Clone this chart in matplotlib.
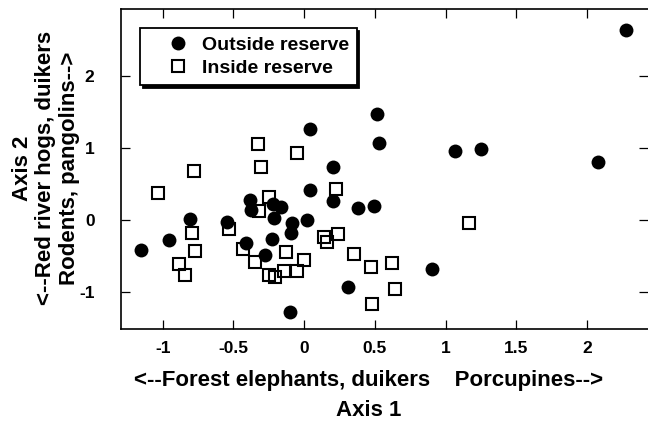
import matplotlib
matplotlib.use("Agg")
import matplotlib.pyplot as plt

plt.rcParams['font.family'] = ['Liberation Sans', 'DejaVu Sans']
plt.rcParams['font.weight'] = 'bold'

# Outside reserve (filled circles)
out_x = [2.273, 0.514, 0.528, 0.040, 1.067, 1.251, 2.078, 0.200, 0.040, 0.200,
         0.382, 0.493, -0.384, -0.377, -0.224, -0.167, -0.212, -0.089, -0.096, 0.017,
         -0.546, -0.808, -0.954, -1.156, -0.412, -0.228, -0.280, 0.311, -0.101, 0.905]
out_y = [2.63, 1.466, 1.06, 1.259, 0.954, 0.986, 0.802, 0.737, 0.415, 0.263,
         0.161, 0.198, 0.277, 0.138, 0.217, 0.184, 0.023, -0.046, -0.184, 0.0,
         -0.023, 0.014, -0.277, -0.415, -0.313, -0.267, -0.479, -0.931, -1.268, -0.682]

# Inside reserve (open squares)
in_x = [-1.036, -0.780, -0.330, -0.306, -0.052, -0.249, -0.318, 0.224, -0.532, -0.796,
        -0.772, -0.888, -0.841, -0.431, -0.348, -0.129, -0.002, -0.049, -0.141, -0.247,
        -0.205, 0.141, 0.158, 0.240, 0.353, 0.469, 0.620, 0.643, 0.481, 1.166]
in_y = [0.369, 0.678, 1.051, 0.737, 0.922, 0.323, 0.124, 0.429, -0.129, -0.184,
        -0.429, -0.613, -0.761, -0.406, -0.576, -0.447, -0.553, -0.701, -0.701, -0.761,
        -0.784, -0.240, -0.300, -0.198, -0.470, -0.646, -0.599, -0.954, -1.166, -0.046]

xticks = [-1, -0.5, 0, 0.5, 1, 1.5, 2]
xticklabels = ['-1', '-0.5', '0', '0.5', '1', '1.5', '2']
yticks = [-1, 0, 1, 2]
yticklabels = ['-1', '0', '1', '2']

fig = plt.figure(figsize=(6.48, 4.21), dpi=100)
W, H = 648, 421
ax = fig.add_axes([121 / W, (H - 328.5) / H, (648 - 121) / W, (328.5 - 9) / H])

ax.plot(in_x, in_y, linestyle='none', marker='s', markersize=9.2,
        markerfacecolor='none', markeredgecolor='black', markeredgewidth=1.5,
        label='Inside reserve', zorder=2)
ax.plot(out_x, out_y, linestyle='none', marker='o', markersize=10,
        markerfacecolor='black', markeredgecolor='black', markeredgewidth=0,
        label='Outside reserve', zorder=3)

ax.set_xlim(-1.295, 2.43)
ax.set_ylim(-1.5, 2.92)
ax.set_xticks(xticks)
ax.set_xticklabels(xticklabels)
ax.set_yticks(yticks)
ax.set_yticklabels(yticklabels)
ax.tick_params(axis='both', direction='in', length=6.5, width=0.9,
               top=True, right=True, labelsize=12.5)
ax.tick_params(axis='x', pad=9)
ax.tick_params(axis='y', pad=19)
for lab in ax.get_xticklabels() + ax.get_yticklabels():
    lab.set_fontweight('bold')
for s in ['left', 'bottom', 'top']:
    ax.spines[s].set_linewidth(1.2)
ax.spines['right'].set_visible(False)

handles, labels = ax.get_legend_handles_labels()
leg = ax.legend(handles[::-1], labels[::-1], loc='upper left',
                bbox_to_anchor=(0.036, 0.940), borderaxespad=0,
                prop={'weight': 'bold', 'size': 14}, frameon=True, fancybox=False,
                shadow={'color': 'black', 'alpha': 1},
                borderpad=0.4, handlelength=3.1, handletextpad=-0.32,
                labelspacing=0.3, edgecolor='black')
leg.get_frame().set_linewidth(1.3)

fig.text(369 / W, 1 - 386 / H, '<--Forest elephants, duikers    Porcupines-->',
         ha='center', va='baseline', fontsize=16, fontweight='bold')
fig.text(369 / W, 1 - 416 / H, 'Axis 1',
         ha='center', va='baseline', fontsize=16, fontweight='bold')
fig.text(46 / W, 1 - 168 / H,
         'Axis 2\n<--Red river hogs, duikers\nRodents, pangolins-->',
         ha='center', va='center', rotation=90, multialignment='center',
         fontsize=16, fontweight='bold', linespacing=1.15)

fig.savefig('out.png', dpi=100)
